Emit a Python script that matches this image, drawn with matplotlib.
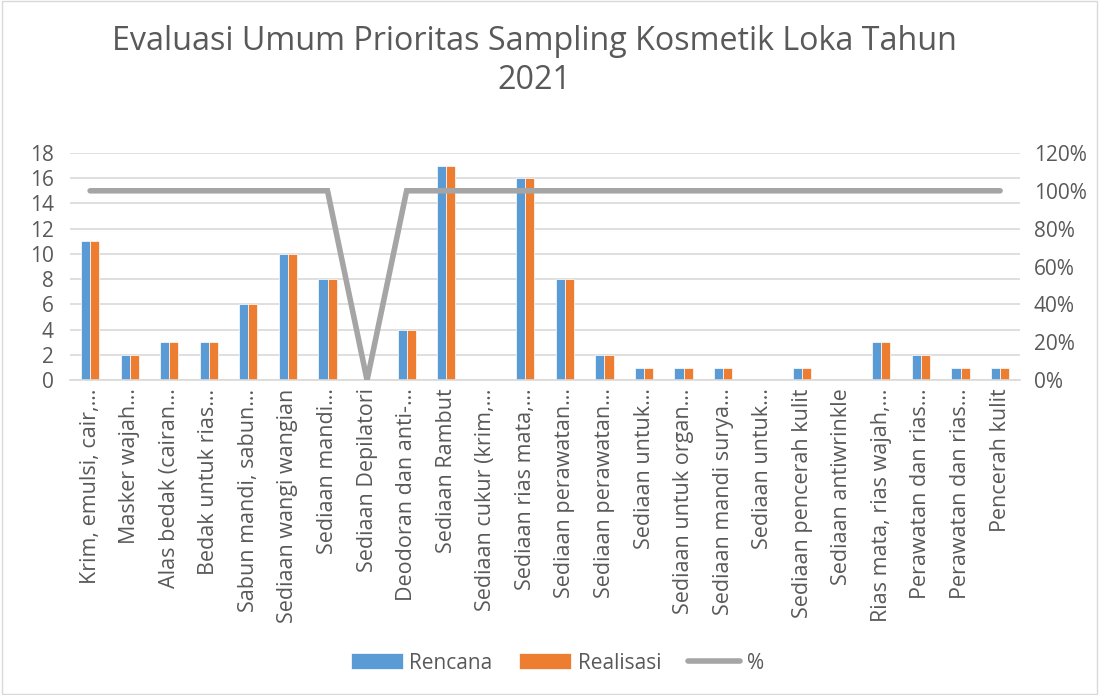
import numpy as np
import matplotlib.pyplot as plt
from matplotlib.ticker import PercentFormatter

plt.rcParams['font.family'] = ['Open Sans', 'DejaVu Sans']

# data
kategori = ['Krim, emulsi, cair,…', 'Masker wajah…', 'Alas bedak (cairan…',
            'Bedak untuk rias…', 'Sabun mandi, sabun…', 'Sediaan wangi wangian',
            'Sediaan mandi…', 'Sediaan Depilatori', 'Deodoran dan anti-…',
            'Sediaan Rambut', 'Sediaan cukur (krim,…', 'Sediaan rias mata,…',
            'Sediaan perawatan…', 'Sediaan perawatan…', 'Sediaan untuk…',
            'Sediaan untuk organ…', 'Sediaan mandi surya…', 'Sediaan untuk…',
            'Sediaan pencerah kulit', 'Sediaan antiwrinkle', 'Rias mata, rias wajah,…',
            'Perawatan dan rias…', 'Perawatan dan rias…', 'Pencerah kulit']
rencana = [11, 2, 3, 3, 6, 10, 8, 0, 4, 17, 0, 16, 8, 2, 1, 1, 1, 0, 1, 0, 3, 2, 1, 1]
realisasi = [11, 2, 3, 3, 6, 10, 8, 0, 4, 17, 0, 16, 8, 2, 1, 1, 1, 0, 1, 0, 3, 2, 1, 1]
persen = [1, 1, 1, 1, 1, 1, 1, 0, 1, 1, 1, 1, 1, 1, 1, 1, 1, 1, 1, 1, 1, 1, 1, 1]

txt = '#595959'
grid = '#D9D9D9'

fig = plt.figure(figsize=(10.99, 6.95), dpi=100)
ax = fig.add_axes([0.064, 0.453, 0.864, 0.327])
ax2 = ax.twinx()

x = np.arange(len(kategori))
w = 0.23
ax.bar(x - w/2, rencana, w, color='#5B9BD5', edgecolor='white', linewidth=0.5, label='Rencana', zorder=2)
ax.bar(x + w/2, realisasi, w, color='#ED7D31', edgecolor='white', linewidth=0.5, label='Realisasi', zorder=2)
ax2.plot(x, persen, color='#A5A5A5', linewidth=4, solid_capstyle='round',
         solid_joinstyle='miter', label='%', zorder=3)

ax.set_xlim(-0.5, len(kategori) - 0.5)
ax.set_ylim(0, 18)
ax.set_yticks(range(0, 19, 2))
ax2.set_ylim(0, 1.2)
ax2.set_yticks(np.arange(0, 1.21, 0.2))
ax2.yaxis.set_major_formatter(PercentFormatter(1.0, decimals=0))

ax.yaxis.grid(True, color=grid, linewidth=1.2, zorder=0)
ax.set_axisbelow(True)
for a in (ax, ax2):
    for s in a.spines.values():
        s.set_visible(False)
    a.tick_params(length=0, colors=txt, labelsize=15)
ax.spines['bottom'].set_visible(True)
ax.spines['bottom'].set_color(grid)
ax.spines['bottom'].set_linewidth(1.2)

ax.set_xticks(x)
ax.set_xticklabels(kategori, rotation=90, ha='center', va='top', fontsize=15.5, color=txt)
ax.tick_params(axis='x', pad=6)
ax.tick_params(axis='y', pad=12)
ax2.tick_params(axis='y', pad=10)

fig.text(0.486, 0.941, 'Evaluasi Umum Prioritas Sampling Kosmetik Loka Tahun', ha='center',
         va='center', fontsize=23.2, color=txt)
fig.text(0.486, 0.884, '2021', ha='center', va='center', fontsize=23.2, color=txt)

h1, l1 = ax.get_legend_handles_labels()
h2, l2 = ax2.get_legend_handles_labels()
fig.legend(h1 + h2, l1 + l2, loc='center', bbox_to_anchor=(0.507, 0.046), ncol=3,
           frameon=False, fontsize=15, labelcolor=txt, handlelength=2.5,
           handleheight=0.8, columnspacing=1.3, handletextpad=0.3)

fig.patches.append(plt.Rectangle((0.002, 0.002), 0.996, 0.996, transform=fig.transFigure,
                                 fill=False, edgecolor='#D9D9D9', linewidth=1))

fig.savefig('out.png', dpi=100)
